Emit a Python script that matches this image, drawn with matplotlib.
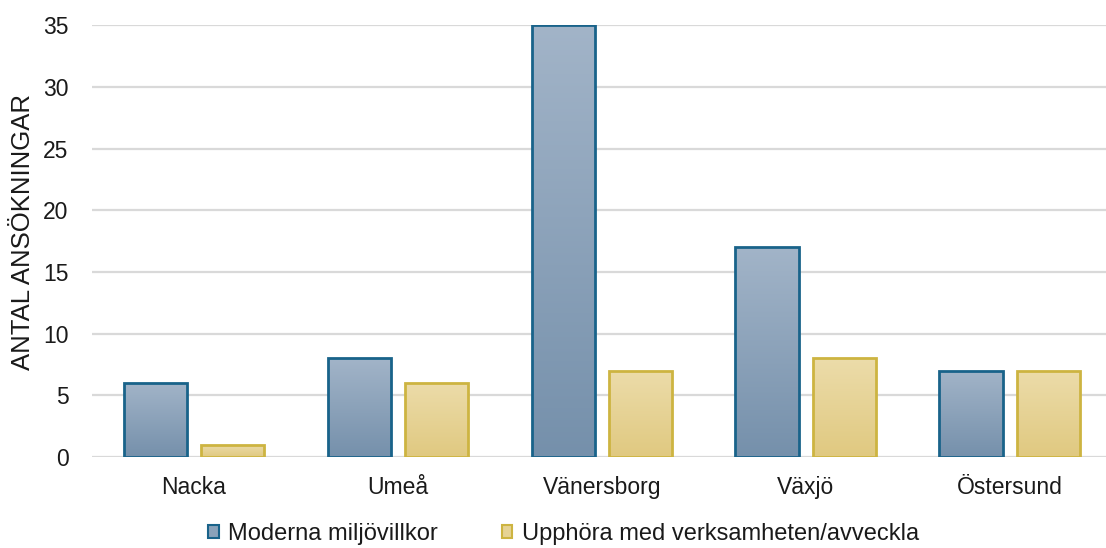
import matplotlib
matplotlib.use("Agg")
import matplotlib.pyplot as plt
import numpy as np
from matplotlib.colors import LinearSegmentedColormap
from matplotlib.patches import Patch

plt.rcParams['font.family'] = ['Liberation Sans', 'DejaVu Sans']

categories = ["Nacka", "Umeå", "Vänersborg", "Växjö", "Östersund"]
series_names = ["Moderna miljövillkor", "Upphöra med verksamheten/avveckla"]
moderna = [6, 8, 35, 17, 7]
upphora = [1, 6, 7, 8, 7]
yticks = [0, 5, 10, 15, 20, 25, 30, 35]

fig = plt.figure(figsize=(11.06, 5.48), dpi=100)
ax = fig.add_axes([0.0832, 0.166, 0.922, 0.788])

x = np.arange(len(categories))
w = 0.31
off = 0.19

blue_cmap = LinearSegmentedColormap.from_list("b", ["#7590ab", "#a2b4c8"])
yel_cmap = LinearSegmentedColormap.from_list("y", ["#e0c980", "#ecdcaa"])

b1 = ax.bar(x - off, moderna, w, facecolor="none", edgecolor="#19638a", linewidth=2, zorder=3)
b2 = ax.bar(x + off, upphora, w, facecolor="none", edgecolor="#cdb441", linewidth=2, zorder=3)

grad = np.linspace(0, 1, 256).reshape(-1, 1)
for bars, cmap in ((b1, blue_cmap), (b2, yel_cmap)):
    for bar in bars:
        bx, by = bar.get_x(), bar.get_y()
        bw, bh = bar.get_width(), bar.get_height()
        im = ax.imshow(grad, cmap=cmap, origin="lower", aspect="auto",
                       extent=[bx, bx + bw, by, by + bh], zorder=2)
        im.set_clip_path(bar)

ax.set_xlim(-0.5, len(categories) - 0.5)
ax.set_ylim(0, 35)
ax.set_yticks(yticks)
ax.set_xticks(x)
ax.set_xticklabels(categories)
ax.tick_params(axis='both', length=0, labelsize=16.5, labelcolor="#1a1a1a")
ax.tick_params(axis='y', pad=17)
ax.tick_params(axis='x', pad=14)
ax.yaxis.grid(True, color="#d9d9d9", linewidth=1.6, zorder=0)
ax.set_axisbelow(True)
for s in ax.spines.values():
    s.set_visible(False)

ax.set_ylabel("ANTAL ANSÖKNINGAR", fontsize=18.5, color="#1a1a1a")
ax.yaxis.set_label_coords(-0.056, 0.52)

handles = [Patch(facecolor="#8aa2ba", edgecolor="#19638a", linewidth=1.5),
           Patch(facecolor="#e6d394", edgecolor="#cdb441", linewidth=1.5)]
fig.legend(handles, series_names, loc="center", bbox_to_anchor=(0.5095, 0.026),
           ncol=2, frameon=False, fontsize=17, handlelength=0.45, handleheight=0.45,
           handletextpad=0.4, columnspacing=2.7, labelcolor="#1a1a1a")

fig.savefig("out.png", dpi=100)
